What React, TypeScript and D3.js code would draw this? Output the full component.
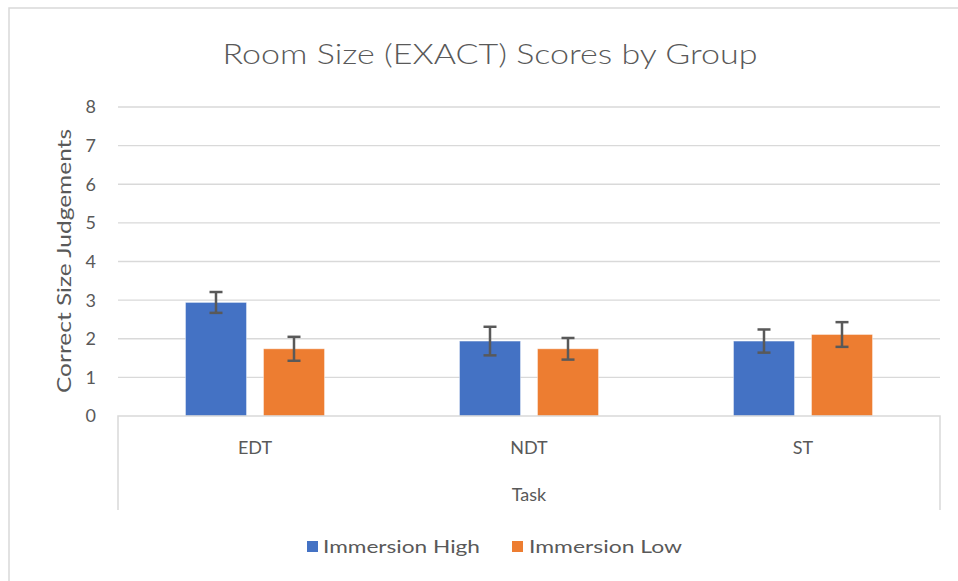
import React from "react";
import * as d3 from "d3";

const categories = ["EDT", "NDT", "ST"];
const seriesNames = ["Immersion High", "Immersion Low"];
const highValues = [2.94, 1.94, 1.94];
const lowValues = [1.74, 1.74, 2.11];
const highErrors = [0.27, 0.37, 0.3];
const lowErrors = [0.31, 0.28, 0.32];
const yTicks = [0, 1, 2, 3, 4, 5, 6, 7, 8];
const colors = ["#4472C4", "#ED7D31"];

const W = 958;
const H = 581;
const FONT = "Lato, 'Open Sans', sans-serif";
const TEXT = "#595959";

export default function App() {
  const x0 = d3.scaleBand<string>().domain(categories).range([118, 940]).padding(0);
  const bw = x0.bandwidth();
  const groupW = 139;
  const x1 = d3
    .scaleBand<string>()
    .domain(seriesNames)
    .range([bw / 2 - groupW / 2, bw / 2 + groupW / 2])
    .paddingInner(0.218)
    .paddingOuter(0);
  const y = d3.scaleLinear().domain([0, 8]).range([416, 107]);

  const series = [
    { name: seriesNames[0], values: highValues, errors: highErrors, color: colors[0] },
    { name: seriesNames[1], values: lowValues, errors: lowErrors, color: colors[1] },
  ];

  return (
    <svg
      width={W}
      height={H}
      style={{ position: "absolute", left: 0, top: 0, background: "#fff" }}
      fontFamily={FONT}
    >
      <rect x={9} y={8} width={W + 20} height={H + 20} fill="#fff" stroke="#D9D9D9" strokeWidth={1.5} />
      <text
        x={490}
        y={64}
        textAnchor="middle"
        fontSize={28}
        fontWeight={300}
        fill={TEXT}
        textLength={535}
        lengthAdjust="spacingAndGlyphs"
      >
        Room Size (EXACT) Scores by Group
      </text>

      {/* gridlines */}
      {yTicks.map((t) => (
        <g key={t}>
          {t > 0 && (
            <line x1={118} x2={940} y1={y(t)} y2={y(t)} stroke="#D9D9D9" strokeWidth={1.3} />
          )}
          <text x={96} y={y(t)} dy="0.36em" textAnchor="end" fontSize={18} fill={TEXT}>
            {t}
          </text>
        </g>
      ))}

      {/* y title */}
      <text
        transform={`translate(71, 261) rotate(-90)`}
        textAnchor="middle"
        fontSize={19}
        fill={TEXT}
        textLength={264}
        lengthAdjust="spacingAndGlyphs"
      >
        Correct Size Judgements
      </text>

      {/* bars */}
      {categories.map((c, i) => (
        <g key={c} transform={`translate(${x0(c)},0)`}>
          {series.map((s) => {
            const bx = x1(s.name)!;
            const v = s.values[i];
            const e = s.errors[i];
            const cx = bx + x1.bandwidth() / 2;
            return (
              <g key={s.name}>
                <rect
                  x={bx}
                  y={y(v)}
                  width={x1.bandwidth()}
                  height={y(0) - y(v)}
                  fill={s.color}
                  stroke="#fff"
                  strokeOpacity={0.4}
                  strokeWidth={1}
                />
                <g stroke="#595959" strokeWidth={2.5}>
                  <line x1={cx} x2={cx} y1={y(v + e)} y2={y(v - e)} />
                  <line x1={cx - 6.5} x2={cx + 6.5} y1={y(v + e)} y2={y(v + e)} />
                  <line x1={cx - 6.5} x2={cx + 6.5} y1={y(v - e)} y2={y(v - e)} />
                </g>
              </g>
            );
          })}
          <text x={bw / 2} y={448} dy="0.36em" textAnchor="middle" fontSize={18} fill={TEXT}>
            {c}
          </text>
        </g>
      ))}

      {/* axis box */}
      <path d={`M118,510 V416 H940 V510`} fill="none" stroke="#D9D9D9" strokeWidth={1.5} />
      <text x={529} y={495} dy="0.36em" textAnchor="middle" fontSize={18} fill={TEXT}>
        Task
      </text>

      {/* legend */}
      <rect x={307} y={541} width={11} height={11} fill={colors[0]} />
      <text x={323} y={547} dy="0.36em" fontSize={18} fill={TEXT} textLength={157} lengthAdjust="spacingAndGlyphs">
        {seriesNames[0]}
      </text>
      <rect x={512} y={541} width={11} height={11} fill={colors[1]} />
      <text x={529} y={547} dy="0.36em" fontSize={18} fill={TEXT} textLength={153} lengthAdjust="spacingAndGlyphs">
        {seriesNames[1]}
      </text>
    </svg>
  );
}
